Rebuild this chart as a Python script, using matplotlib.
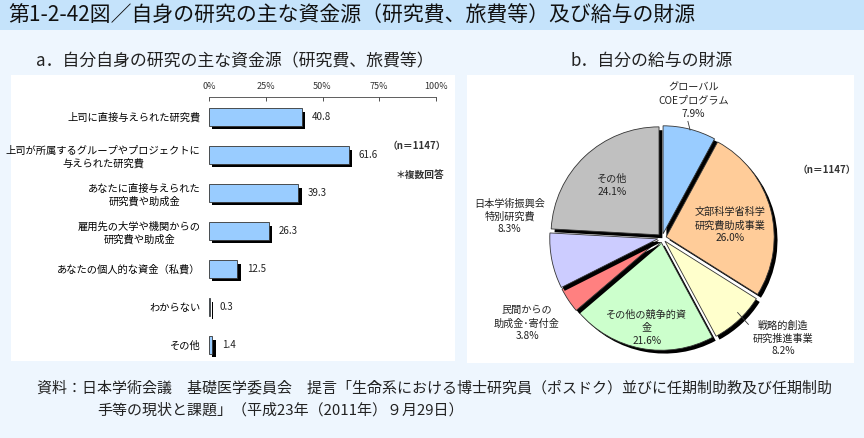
import numpy as np
import matplotlib
matplotlib.use("Agg")
import matplotlib.pyplot as plt
import matplotlib.patheffects as pe
from matplotlib.patches import Rectangle

plt.rcParams['font.family'] = ['Noto Sans CJK JP', 'DejaVu Sans']

# data
bar_labels = ["上司に直接与えられた研究費",
              "上司が所属するグループやプロジェクトに\n与えられた研究費",
              "あなたに直接与えられた\n研究費や助成金",
              "雇用先の大学や機関からの\n研究費や助成金",
              "あなたの個人的な資金（私費）",
              "わからない",
              "その他"]
bar_values = [40.8, 61.6, 39.3, 26.3, 12.5, 0.3, 1.4]
x_ticks = [0, 25, 50, 75, 100]

pie_labels = ["グローバル\nCOEプログラム",
              "文部科学省科学\n研究費助成事業",
              "戦略的創造\n研究推進事業",
              "その他の競争的資\n金",
              "民間からの\n助成金･寄付金",
              "日本学術振興会\n特別研究費",
              "その他"]
pie_values = [7.9, 26.0, 8.2, 21.6, 3.8, 8.3, 24.1]
pie_colors = ["#99ccff", "#ffcc99", "#ffffcc", "#ccffcc", "#ff8080", "#ccccff", "#c0c0c0"]
# label placement (layout, radius units)
pie_label_pos = [(0.29, 1.27), (0.63, 0.12), (1.12, -0.93), (-0.14, -0.83),
                 (-1.25, -0.79), (-1.41, 0.20), (-0.46, 0.49)]

W, H = 864, 438
def fx(p): return p / W
def fy(p): return 1 - p / H

fig = plt.figure(figsize=(8.64, 4.38), dpi=100, facecolor="#eef6fe")

# title bar and panels
for rect, col in [((0, fy(30), 1, 30 / H), "#c5e3fb"),
                  ((fx(11), fy(361), 444 / W, 286 / H), "white"),
                  ((fx(467), fy(363), 387 / W, 288 / H), "white")]:
    fig.patches.append(Rectangle(rect[:2], rect[2], rect[3], transform=fig.transFigure,
                                 facecolor=col, edgecolor="none", zorder=-5))

fig.text(fx(8), fy(16), "第1-2-42図／自身の研究の主な資金源（研究費、旅費等）及び給与の財源",
         fontsize=15, va="center", ha="left", color="#111111")
fig.text(fx(36), fy(61), "a．自分自身の研究の主な資金源（研究費、旅費等）",
         fontsize=12.2, va="center", ha="left", color="#222222")
fig.text(fx(570), fy(61), "b．自分の給与の財源",
         fontsize=12.2, va="center", ha="left", color="#222222")
fig.text(fx(37), fy(388), "資料：日本学術会議　基礎医学委員会　提言「生命系における博士研究員（ポスドク）並びに任期制助教及び任期制助",
         fontsize=10.8, va="center", ha="left", color="#222222")
fig.text(fx(97), fy(410), "手等の現状と課題」（平成23年（2011年）９月29日）",
         fontsize=10.8, va="center", ha="left", color="#222222")

# ---- bar chart ----
ax = fig.add_axes([fx(209), fy(361), 227 / W, (361 - 97) / H])
ax.set_facecolor("none")
y = np.arange(len(bar_values))
shadow = [pe.SimplePatchShadow(offset=(2.4, -2.4), shadow_rgbFace="black", alpha=1.0), pe.Normal()]
bars = ax.barh(y, bar_values, height=0.45, color="#99ccff", edgecolor="#333333", linewidth=0.6)
for b in bars:
    b.set_path_effects(shadow)
for yi, v in zip(y, bar_values):
    ax.annotate(f"{v:.1f}", (v, yi), xytext=(7, 0), textcoords="offset points",
                va="center", ha="left", fontsize=7, color="#222222")
ax.set_xlim(0, 100)
ax.set_ylim(6.42, -0.526)
ax.xaxis.tick_top()
ax.set_xticks(x_ticks)
ax.set_xticklabels([f"{t}%" for t in x_ticks], fontsize=6.5)
ax.tick_params(axis="x", direction="in", length=3, width=0.6, pad=4, colors="#333333")
ax.set_yticks(y)
ax.set_yticklabels(bar_labels, fontsize=7.4)
for lab in ax.get_yticklabels():
    lab.set_multialignment("center")
    lab.set_linespacing(1.25)
ax.tick_params(axis="y", length=0, pad=6)
for s in ["right", "bottom", "left"]:
    ax.spines[s].set_visible(False)
ax.spines["top"].set_linewidth(0.6)
ax.spines["top"].set_color("#444444")

fig.text(fx(417), fy(146), "（n＝1147）", fontsize=7, ha="center", va="center", weight="bold", color="#333333")
fig.text(fx(420), fy(175), "＊複数回答", fontsize=7, ha="center", va="center", weight="bold", color="#333333")

# ---- pie chart ----
pax = fig.add_axes([fx(512), fy(388), 300 / W, 300 / H])
pax.set_facecolor("none")
wedges, _ = pax.pie(pie_values, colors=pie_colors, startangle=90, counterclock=False,
                    explode=[0.04] * len(pie_values),
                    wedgeprops=dict(edgecolor="#333333", linewidth=0.6))
pshadow = [pe.SimplePatchShadow(offset=(2.4, -2.4), shadow_rgbFace="black", alpha=1.0), pe.Normal()]
for w in wedges:
    w.set_path_effects(pshadow)
for lab, v, (px, py) in zip(pie_labels, pie_values, pie_label_pos):
    pax.text(px, py, f"{lab}\n{v:.1f}%", ha="center", va="center", fontsize=7.3,
             linespacing=1.35, color="#222222")
pax.plot([0.24, 0.26], [1.08, 1.0], color="#333333", lw=0.6)
pax.plot([0.80, 0.70], [-0.80, -0.69], color="#333333", lw=0.6)
lim = 150 / 108
pax.set_xlim(-lim, lim)
pax.set_ylim(-lim, lim)
pax.axis("off")

fig.text(fx(827), fy(170), "（n＝1147）", fontsize=7, ha="center", va="center", weight="bold", color="#333333")

fig.savefig("out.png", dpi=100, facecolor=fig.get_facecolor())
